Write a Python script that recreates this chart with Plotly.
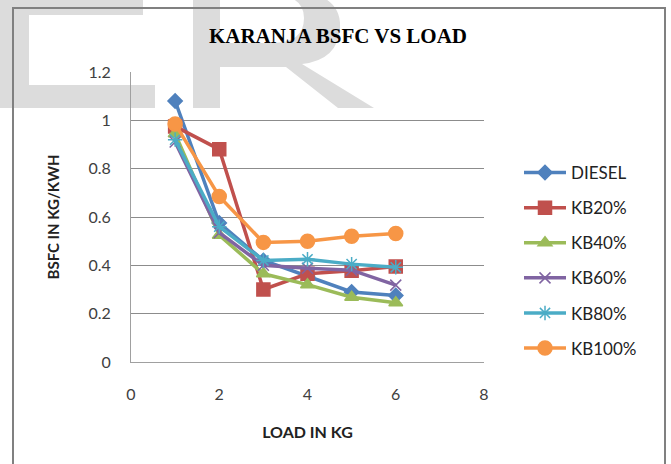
import plotly.graph_objects as go

# ---------------- data ----------------
load = [1, 2, 3, 4, 5, 6]
diesel = [1.08, 0.575, 0.42, 0.355, 0.29, 0.275]
kb20 = [0.975, 0.88, 0.30, 0.365, 0.378, 0.395]
kb40 = [0.945, 0.525, 0.365, 0.32, 0.268, 0.245]
kb60 = [0.91, 0.535, 0.40, 0.388, 0.38, 0.318]
kb80 = [0.92, 0.56, 0.42, 0.425, 0.405, 0.392]
kb100 = [0.985, 0.685, 0.495, 0.50, 0.52, 0.532]

series_names = ["DIESEL", "KB20%", "KB40%", "KB60%", "KB80%", "KB100%"]
series_values = [diesel, kb20, kb40, kb60, kb80, kb100]
colors = ["#4F81BD", "#C0504D", "#9BBB59", "#8064A2", "#4BACC6", "#F79646"]
symbols = ["diamond", "square", "triangle-up", "x-thin-open", "asterisk-open", "circle"]
msizes = [11, 13, 12, 11, 12, 14]

x_ticks = [0, 2, 4, 6, 8]
y_ticks = [0, 0.2, 0.4, 0.6, 0.8, 1.0, 1.2]
y_ticktext = ["0", "0.2", "0.4", "0.6", "0.8", "1", "1.2"]

W, H = 671, 464
L, R, T, B = 131, 187, 72, 102
PW, PH = W - L - R, H - T - B


def px(x, y):
    return (x - L) / PW, (H - B - y) / PH


fig = go.Figure()
for i, (name, vals) in enumerate(zip(series_names, series_values)):
    fig.add_trace(go.Scatter(
        x=load, y=vals, name=name, mode="lines+markers",
        legendgroup=name,
        line=dict(color=colors[i], width=3.5),
        marker=dict(symbol=symbols[i], size=msizes[i], color=colors[i],
                    line=dict(color=colors[i], width=1.5)),
    ))

shapes = []
wm = "#DCDCDC"


def rect(x0, y0, x1, y1):
    a = px(x0, y0)
    b = px(x1, y1)
    return dict(type="rect", xref="paper", yref="paper", x0=a[0], y0=a[1], x1=b[0], y1=b[1],
                fillcolor=wm, line=dict(width=0), layer="below")


# watermark "E"
shapes += [rect(-5, -10, 29, 108), rect(-5, -10, 143, 15), rect(-5, 85, 155, 108)]
# watermark "R"
shapes.append(rect(193, -10, 220, 108))


def pth(cmds):
    out = []
    for c in cmds:
        if isinstance(c, str):
            out.append(c)
        else:
            p = px(*c)
            out.append(f"{p[0]:.5f},{p[1]:.5f}")
    return " ".join(out)


outer = ["M", (219, -10), "L", (282, -10), "Q", (342, -10), (340, 28), "Q", (338, 60), (302, 64),
         "L", (374, 108), "L", (338, 108), "L", (286, 67), "L", (219, 67), "Z"]
inner = ["M", (219, -5), "L", (219, 43), "L", (272, 43), "Q", (304, 43), (304, 18),
         "Q", (304, -5), (272, -5), "Z"]
shapes.append(dict(type="path", xref="paper", yref="paper", path=pth(outer) + " " + pth(inner),
                   fillcolor=wm, line=dict(width=0), layer="below"))

# chart border
a = px(13, 8)
b = px(665, 480)
shapes.append(dict(type="rect", xref="paper", yref="paper", x0=a[0], y0=a[1], x1=b[0], y1=b[1],
                   line=dict(color="#808080", width=2), fillcolor="rgba(0,0,0,0)", layer="above"))

leg_x, leg_y = px(519, 155)

fig.update_layout(
    width=W, height=H,
    margin=dict(l=L, r=R, t=T, b=B, autoexpand=False),
    paper_bgcolor="rgba(0,0,0,0)",
    plot_bgcolor="rgba(0,0,0,0)",
    shapes=shapes,
    title=dict(text="<b>KARANJA BSFC VS LOAD</b>", x=338 / W, xanchor="center",
               y=1 - 36 / H, yanchor="middle",
               font=dict(family="Liberation Serif", size=21, color="#000000")),
    xaxis=dict(range=[0, 8], tickvals=x_ticks, ticktext=[str(v) for v in x_ticks],
               showgrid=False, zeroline=False, showline=True, linecolor="#A0A0A0", linewidth=1,
               ticks="", ticklabelstandoff=18,
               tickfont=dict(family="Lato", size=16, color="#404040"),
               title=dict(text="<b>LOAD IN KG</b>", standoff=24,
                          font=dict(family="Lato", size=16, color="#222222"))),
    yaxis=dict(range=[0, 1.2], tickvals=y_ticks, ticktext=y_ticktext,
               showgrid=True, gridcolor="#8C8C8C", gridwidth=1, zeroline=False,
               showline=True, linecolor="#A0A0A0", linewidth=1,
               ticks="", ticklabelstandoff=16,
               tickfont=dict(family="Lato", size=16, color="#404040"),
               title=dict(text="<b>BSFC IN KG/KWH</b>", standoff=25,
                          font=dict(family="Lato", size=15, color="#222222"))),
    legend=dict(x=leg_x, y=leg_y, xanchor="left", yanchor="top",
                font=dict(family="Lato", size=17, color="#222222"),
                tracegroupgap=10, bgcolor="rgba(0,0,0,0)", itemwidth=42),
    showlegend=True,
)

fig.write_html("out.html")
